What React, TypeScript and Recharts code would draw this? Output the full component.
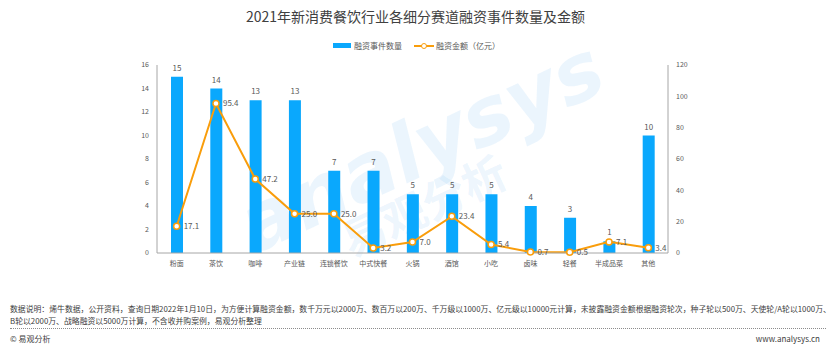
import React from "react";
import { ComposedChart, Bar, Line, XAxis, YAxis, LabelList } from "recharts";

const categories = ["粉面", "茶饮", "咖啡", "产业链", "连锁餐饮", "中式快餐", "火锅", "酒馆", "小吃", "卤味", "轻餐", "半成品菜", "其他"];
const eventCounts = [15, 14, 13, 13, 7, 7, 5, 5, 5, 4, 3, 1, 10];
const amounts = [17.1, 95.4, 47.2, 25.0, 25.0, 3.2, 7.0, 23.4, 5.4, 0.7, 0.5, 7.1, 3.4];
const leftTicks = [0, 2, 4, 6, 8, 10, 12, 14, 16];
const rightTicks = [0, 20, 40, 60, 80, 100, 120];

const data = categories.map((name, i) => ({ name, count: eventCounts[i], amount: amounts[i] }));

const FONT = '"Noto Sans CJK SC", "Noto Sans", sans-serif';
const BLUE = "#0aa8fd";
const ORANGE = "#f99d0b";
const AXIS = "#a6a6a6";
const TEXT = "#595959";

export default function App() {
  return (
    <div style={{ position: "absolute", left: 0, top: 0, width: 831, height: 354, background: "#fff", fontFamily: FONT, overflow: "hidden" }}>
      <div style={{ position: "absolute", top: 6, left: 0, width: 831, textAlign: "center", fontSize: 14, color: "#404040" }}>
        2021年新消费餐饮行业各细分赛道融资事件数量及金额
      </div>
      <div style={{ position: "absolute", top: 40, left: 333, display: "flex", alignItems: "center", fontSize: 8, color: TEXT }}>
        <span style={{ display: "inline-block", width: 18, height: 5, background: BLUE, marginRight: 3 }} />
        <span>融资事件数量</span>
        <span style={{ position: "relative", display: "inline-block", width: 20, height: 8, marginLeft: 12, marginRight: 2 }}>
          <span style={{ position: "absolute", left: 0, top: 3, width: 20, height: 2, background: ORANGE }} />
          <span style={{ position: "absolute", left: 7, top: 1, width: 4, height: 4, borderRadius: 3, border: `1px solid ${ORANGE}`, background: "#fff" }} />
        </span>
        <span>融资金额（亿元）</span>
      </div>
      <div style={{ position: "absolute", left: 225, top: 100, transform: "rotate(-25deg)", fontSize: 80, fontStyle: "italic", fontWeight: 700, color: "rgba(120,190,240,0.15)", pointerEvents: "none", fontFamily: '"DejaVu Sans", sans-serif' }}>
        analysys
      </div>
      <div style={{ position: "absolute", left: 335, top: 172, transform: "rotate(-25deg)", fontSize: 44, fontWeight: 700, color: "rgba(120,190,240,0.15)", pointerEvents: "none" }}>
        易观分析
      </div>
      <ComposedChart
        width={831}
        height={354}
        data={data}
        margin={{ top: 65, right: 123, left: 110, bottom: 81 }}
        style={{ position: "absolute", left: 0, top: 0, fontFamily: FONT }}
      >
        <XAxis
          dataKey="name"
          height={20}
          stroke={AXIS}
          tickLine={false}
          interval={0}
          tick={{ fontSize: 7, fill: TEXT }}
        />
        <YAxis
          yAxisId="left"
          width={47}
          domain={[0, 16]}
          ticks={leftTicks}
          stroke={AXIS}
          tickLine={false}
          tick={{ fontSize: 7, fill: TEXT }}
        />
        <YAxis
          yAxisId="right"
          orientation="right"
          width={40}
          domain={[0, 120]}
          ticks={rightTicks}
          stroke={AXIS}
          tickLine={false}
          tick={{ fontSize: 7, fill: TEXT }}
        />
        <Bar yAxisId="left" dataKey="count" fill={BLUE} barSize={12} isAnimationActive={false}>
          <LabelList dataKey="count" position="top" offset={6} style={{ fontSize: 8, fill: TEXT }} />
        </Bar>
        <Line
          yAxisId="right"
          type="linear"
          dataKey="amount"
          stroke={ORANGE}
          strokeWidth={2}
          dot={{ r: 3, fill: "#fff", stroke: ORANGE, strokeWidth: 1.5 }}
          isAnimationActive={false}
        >
          <LabelList
            dataKey="amount"
            position="right"
            offset={7}
            formatter={(v: number) => v.toFixed(1)}
            style={{ fontSize: 8, fill: TEXT }}
          />
        </Line>
      </ComposedChart>
      <div style={{ position: "absolute", left: 10, top: 303, fontSize: 7.85, lineHeight: "12px", color: "#404040", whiteSpace: "nowrap" }}>
        数据说明：烯牛数据，公开资料，查询日期2022年1月10日，为方便计算融资金额，数千万元以2000万、数百万以200万、千万级以1000万、亿元级以10000元计算，未披露融资金额根据融资轮次，种子轮以500万、天使轮/A轮以1000万、
        <br />
        B轮以2000万、战略融资以5000万计算，不含收并购案例，易观分析整理
      </div>
      <div style={{ position: "absolute", left: 10, top: 328, width: 816, borderTop: "1px dotted #8c8c8c" }} />
      <div style={{ position: "absolute", left: 10, top: 333, fontSize: 8, color: "#404040" }}>© 易观分析</div>
      <div style={{ position: "absolute", right: 11, top: 333, fontSize: 8, color: "#404040" }}>www.analysys.cn</div>
    </div>
  );
}
